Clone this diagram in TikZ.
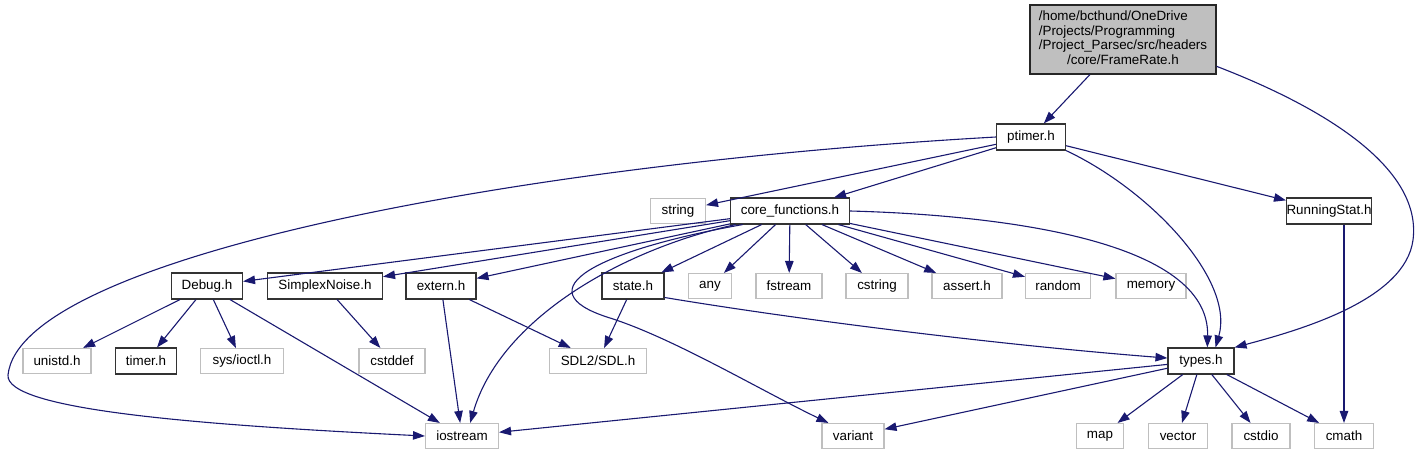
\documentclass[tikz,border=0pt]{standalone}
\usepackage{fontspec}
\setmainfont{Liberation Sans}
\usetikzlibrary{arrows.meta}
\definecolor{edgeblue}{HTML}{191970}

\begin{document}
\begin{tikzpicture}[
  x=1pt, y=-1pt,
  every node/.style={font=\fontsize{13.4}{14.6}\selectfont},
  inc/.style={rectangle, draw=black!80, line width=1.1pt, fill=white,
              inner sep=0pt, minimum height=26pt},
  sys/.style={rectangle, draw=black!25, line width=1.1pt, fill=white,
              inner sep=0pt, minimum height=25pt},
  root/.style={rectangle, draw=black!85, line width=1.2pt, fill=black!25,
               inner sep=0pt, minimum width=186pt, minimum height=69pt},
  dep/.style={-{Triangle[length=12pt, width=8.5pt]}, draw=edgeblue, line width=1.1pt}
]
\useasboundingbox (0,0) rectangle (1422,455);

% header and its direct includes
\node[root] (frame) at (1123,39.5)
  {\begin{tabular}{@{}l@{}}/home/bcthund/OneDrive\\ /Projects/Programming\\
   /Project\_Parsec/src/headers\\ \multicolumn{1}{@{}c@{}}{/core/FrameRate.h}\end{tabular}};
\node[inc, minimum width=69pt] (ptimer) at (1031,137) {ptimer.h};
\node[sys, minimum width=55pt] (string) at (678,211) {string};
\node[inc, minimum width=119pt] (core) at (790,211) {core\_functions.h};
\node[inc, minimum width=76pt] (running) at (1329,211) {RunningStat.h};

% second row
\node[inc, minimum width=71pt] (debug) at (207,286) {Debug.h};
\node[inc, minimum width=115pt] (simplex) at (325,286) {SimplexNoise.h};
\node[inc, minimum width=70pt] (extern) at (441,286) {extern.h};
\node[inc, minimum width=62pt] (state) at (633,286) {state.h};
\node[sys, minimum width=43pt] (any) at (710,286) {any};
\node[sys, minimum width=66pt] (fstream) at (789,286) {fstream};
\node[sys, minimum width=62pt] (cstring) at (877,286) {cstring};
\node[sys, minimum width=70pt] (assert) at (967,286) {assert.h};
\node[sys, minimum width=65pt] (random) at (1058,286) {random};
\node[sys, minimum width=70pt] (memory) at (1151,286) {memory};

% third row
\node[sys, minimum width=68pt] (unistd) at (57,361) {unistd.h};
\node[inc, minimum width=61pt] (timer) at (146,361) {timer.h};
\node[sys, minimum width=83pt] (ioctl) at (242,361) {sys/ioctl.h};
\node[sys, minimum width=66pt] (cstddef) at (392,361) {cstddef};
\node[sys, minimum width=97pt] (sdl) at (598,361) {SDL2/SDL.h};
\node[inc, minimum width=66pt] (types) at (1201,361) {types.h};

% bottom row
\node[sys, minimum width=73pt] (iostream) at (462,436) {iostream};
\node[sys, minimum width=62pt] (variant) at (853,436) {variant};
\node[sys, minimum width=47pt] (map) at (1100,436) {map};
\node[sys, minimum width=59pt] (vector) at (1178,436) {vector};
\node[sys, minimum width=58pt] (cstdio) at (1261,436) {cstdio};
\node[sys, minimum width=59pt] (cmath) at (1344,436) {cmath};

% FrameRate.h
\draw[dep] (frame) -- (ptimer);
\draw[dep] (frame.-16) .. controls (1330,110) and (1422,170) .. (1413,240)
  .. controls (1405,300) and (1300,330) .. (types.north east);

% ptimer.h
\draw[dep] (ptimer.west) .. controls (500,165) and (20,260) .. (8,375)
  .. controls (5,410) and (200,425) .. (iostream.west);
\draw[dep] (ptimer) -- (string);
\draw[dep] (ptimer) -- (core);
\draw[dep] (ptimer) -- (running);
\draw[dep] (ptimer.south east) .. controls (1150,190) and (1235,280) .. (types.43);

% RunningStat.h
\draw[dep] (cmath.north |- running.south) -- (cmath.north);

% core_functions.h
\foreach \dst in {debug, simplex, extern, state, any, fstream, cstring, assert, random, memory}
  \draw[dep] (core) -- (\dst);
\draw[dep] (core.194) .. controls (620,250) and (500,320) .. (iostream.58);
\draw[dep] (core.196) .. controls (600,250) and (520,290) .. (610,318)
  .. controls (673,338) and (760,390) .. (variant.152);
\draw[dep] (core.east) .. controls (1000,215) and (1210,240) .. (types.65);

% Debug.h, SimplexNoise.h, extern.h, state.h
\foreach \dst in {unistd, timer, ioctl, iostream}
  \draw[dep] (debug) -- (\dst);
\draw[dep] (simplex) -- (cstddef);
\draw[dep] (extern) -- (iostream);
\draw[dep] (extern) -- (sdl);
\draw[dep] (state) -- (sdl);
\draw[dep] (state.-20) .. controls (800,320) and (1000,345) .. (types.175);

% types.h
\foreach \dst in {iostream, variant, map, vector, cstdio, cmath}
  \draw[dep] (types) -- (\dst);
\end{tikzpicture}
\end{document}
